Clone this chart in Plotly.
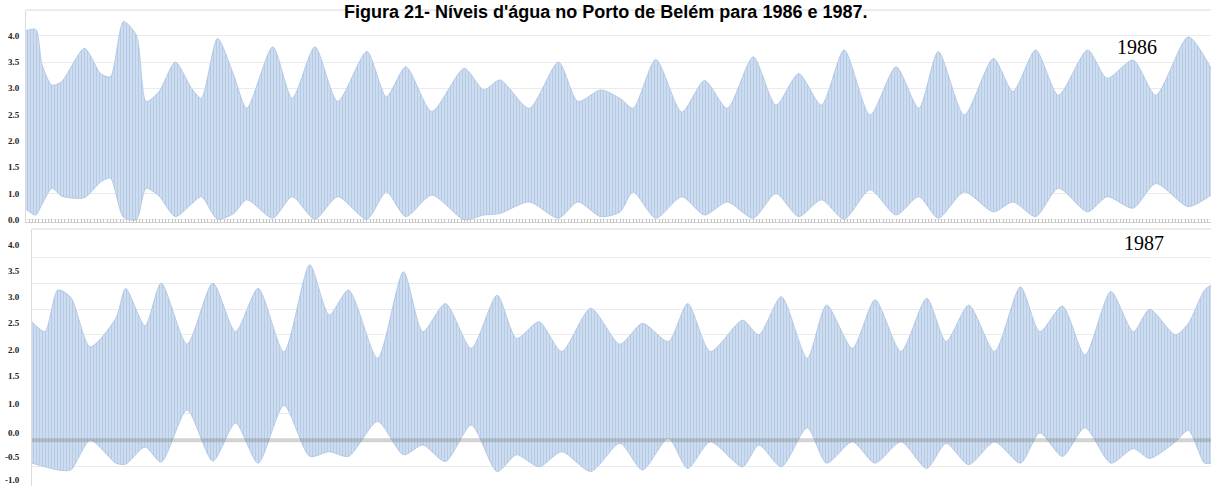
import plotly.graph_objects as go

# ---------------- data ----------------
# 1986 panel: day of year, high-water envelope, low-water envelope
top_day = [0, 3, 5, 8, 11, 18, 23, 26, 30, 34, 37, 41, 46, 51, 54, 59, 64, 68, 76, 82,
           89, 96, 105, 111, 117, 125, 135, 141, 146, 155, 164, 170, 177, 183, 187, 194,
           202, 209, 216, 224, 231, 238, 245, 252, 260, 268, 275, 281, 289, 298, 304,
           311, 318, 327, 333, 341, 348, 358, 365]
top_high = [4.10, 4.12, 3.44, 3.06, 3.13, 3.76, 3.28, 3.22, 4.27, 4.01, 2.75, 2.94, 3.50,
            3.00, 2.81, 3.95, 3.25, 2.62, 3.79, 2.81, 3.79, 2.75, 3.70, 2.84, 3.41, 2.56,
            3.38, 2.97, 3.16, 2.62, 3.50, 2.75, 2.97, 2.81, 2.62, 3.55, 2.55, 3.15, 2.62,
            3.60, 2.68, 3.28, 2.68, 3.73, 2.49, 3.41, 2.62, 3.70, 2.49, 3.57, 2.94, 3.73,
            2.87, 3.73, 3.19, 3.54, 2.87, 3.98, 3.38]
top_low = [0.70, 0.59, 0.80, 1.10, 0.95, 0.92, 1.22, 1.29, 0.55, 0.50, 1.10, 0.95, 0.56,
           0.80, 0.94, 0.51, 0.62, 0.88, 0.53, 0.94, 0.51, 0.94, 0.51, 1.03, 0.56, 0.97,
           0.50, 0.59, 0.62, 0.84, 0.53, 0.84, 0.56, 0.65, 1.03, 0.53, 0.94, 0.59, 0.84,
           0.53, 1.00, 0.56, 0.88, 0.51, 1.07, 0.59, 0.94, 0.53, 1.03, 0.65, 0.84, 0.56,
           1.10, 0.65, 0.94, 0.72, 1.19, 0.75, 0.97]

# 1987 panel
bot_day = [0, 4, 8, 12, 18, 26, 29, 35, 40, 48, 56, 63, 70, 78, 86, 92, 98, 107, 115, 121,
           128, 136, 144, 150, 157, 164, 173, 182, 189, 197, 203, 210, 220, 225, 232, 240,
           246, 254, 261, 269, 277, 283, 290, 298, 306, 312, 319, 326, 334, 341, 346, 354,
           358, 363, 365]
bot_high = [2.53, 2.34, 3.14, 3.00, 2.05, 2.60, 3.17, 2.45, 3.27, 2.10, 3.27, 2.34, 3.17,
            1.95, 3.62, 2.66, 3.14, 1.83, 3.49, 2.34, 2.88, 2.02, 3.04, 2.21, 2.53, 1.96,
            2.79, 2.10, 2.50, 2.15, 2.88, 1.96, 2.56, 2.28, 3.01, 1.83, 2.85, 2.02, 2.95,
            1.96, 2.98, 2.15, 2.85, 1.96, 3.20, 2.34, 2.83, 1.89, 3.11, 2.34, 2.77, 2.28,
            2.50, 3.14, 3.23]
bot_low = [-0.18, -0.25, -0.31, -0.31, 0.26, -0.18, -0.20, 0.13, -0.16, 0.84, -0.14, 0.59,
           -0.18, 0.93, -0.05, 0.04, -0.05, 0.62, -0.02, 0.17, -0.15, 0.55, -0.34, -0.02,
           -0.25, 0.04, -0.34, 0.20, -0.31, 0.30, -0.28, 0.23, -0.25, 0.17, -0.25, 0.50,
           -0.18, 0.23, -0.18, 0.23, -0.28, 0.20, -0.21, 0.23, -0.18, 0.40, -0.05, 0.50,
           -0.18, 0.10, -0.09, 0.23, 0.45, -0.18, -0.18]

# tick labels as printed in the reference
top_tickvals = [4.0, 3.5, 3.0, 2.5, 2.0, 1.5, 1.0, 0.5]
top_ticktext = ["4.0", "3.5", "3.0", "2.5", "2.0", "1.5", "1.0", "0.0"]
bot_tickvals = [4.0, 3.5, 3.0, 2.5, 2.0, 1.5, 0.95, 0.4, -0.05, -0.5]
bot_ticktext = ["4.0", "3.5", "3.0", "2.5", "2.0", "1.5", "1.0", "0.0", "-0.5", "-1.0"]
bot_gridvals = [3.77, 3.27, 2.77, 2.28, 1.78, 1.28, 0.78, -0.25]
bot_band = 0.26

title_text = "Figura 21- Níveis d'água no Porto de Belém para 1986 e 1987."
year_labels = ["1986", "1987"]

# ---------------- figure ----------------
FILL_BG = "#cddcef"
FILL_FG = "#96b4da"
EDGE = "#a9c3e3"
pattern = dict(shape="|", bgcolor=FILL_BG, fgcolor=FILL_FG, size=3, solidity=0.3)

fig = go.Figure()
for days, lo, hi, xa, ya in [(top_day, top_low, top_high, "x", "y"),
                             (bot_day, bot_low, bot_high, "x2", "y2")]:
    fig.add_trace(go.Scatter(x=days, y=lo, xaxis=xa, yaxis=ya, mode="lines",
                             line=dict(width=0.8, color=EDGE, shape="spline",
                                       smoothing=0.7),
                             showlegend=False, hoverinfo="skip"))
    fig.add_trace(go.Scatter(x=days, y=hi, xaxis=xa, yaxis=ya, mode="lines",
                             line=dict(width=0.8, color=EDGE, shape="spline",
                                       smoothing=0.7),
                             fill="tonexty", fillcolor=FILL_BG, fillpattern=pattern,
                             showlegend=False, hoverinfo="skip"))

tickfont = dict(family="Liberation Serif", size=9, color="#222222", weight="bold")
GRID = "#ebebeb"
LINE = "#dcdcdc"

fig.update_layout(
    width=1211, height=486,
    margin=dict(l=26, r=0, t=0, b=0, autoexpand=False),
    paper_bgcolor="white", plot_bgcolor="white",
    xaxis=dict(domain=[0, 1], range=[0, 365], anchor="y", showgrid=False,
               zeroline=False, showticklabels=False, ticks="inside", ticklen=3,
               dtick=1, tick0=0, tickcolor="#c4c4c4", tickwidth=1,
               showline=True, linecolor="#cfcfcf", automargin=False),
    yaxis=dict(domain=[0.5432, 0.9794], range=[0.458, 4.489], anchor="x",
               tickmode="array", tickvals=top_tickvals, ticktext=top_ticktext,
               showgrid=True, gridcolor=GRID, zeroline=False, showline=True,
               linecolor=LINE, ticks="", tickfont=tickfont, ticklabelstandoff=4,
               automargin=False),
    xaxis2=dict(domain=[0.00506, 1], range=[0, 365], anchor="y2", showgrid=False,
                zeroline=False, showticklabels=False, ticks="", automargin=False),
    yaxis2=dict(domain=[0, 0.5288], range=[-0.617, 4.307], anchor="x2",
                tickmode="array", tickvals=bot_tickvals, ticktext=bot_ticktext,
                showgrid=False, zeroline=False, showline=True, linecolor=LINE,
                ticks="", tickfont=tickfont, ticklabelstandoff=10, automargin=False,
                minor=dict(tickmode="array", tickvals=bot_gridvals, showgrid=True,
                           gridcolor=GRID, ticks="")),
    shapes=[
        dict(type="line", xref="x domain", yref="y domain", x0=0, x1=1, y0=1, y1=1,
             line=dict(color="#e6e6e6", width=1.5)),
        dict(type="line", xref="x2 domain", yref="y2 domain", x0=0, x1=1, y0=1, y1=1,
             line=dict(color="#e6e6e6", width=1.5)),
        dict(type="line", xref="x2 domain", yref="y2", x0=0, x1=1,
             y0=bot_band, y1=bot_band, layer="above",
             line=dict(color="rgba(130,130,130,0.35)", width=4)),
    ],
    annotations=[
        dict(text="<b>" + title_text + "</b>", xref="paper", yref="paper",
             x=0.4895, y=1.0, xanchor="center", yanchor="top", showarrow=False,
             font=dict(family="Liberation Sans", size=18, color="black")),
        dict(text=year_labels[0], xref="paper", yref="paper", x=0.9376, y=0.9033,
             xanchor="center", yanchor="middle", showarrow=False,
             font=dict(family="Liberation Serif", size=20, color="black")),
        dict(text=year_labels[1], xref="paper", yref="paper", x=0.9435, y=0.500,
             xanchor="center", yanchor="middle", showarrow=False,
             font=dict(family="Liberation Serif", size=20, color="black")),
    ],
)

fig.write_html(
    "out.html",
    config={"displayModeBar": False},
    post_script="document.body.style.margin='0';document.body.style.overflow='hidden';",
)
